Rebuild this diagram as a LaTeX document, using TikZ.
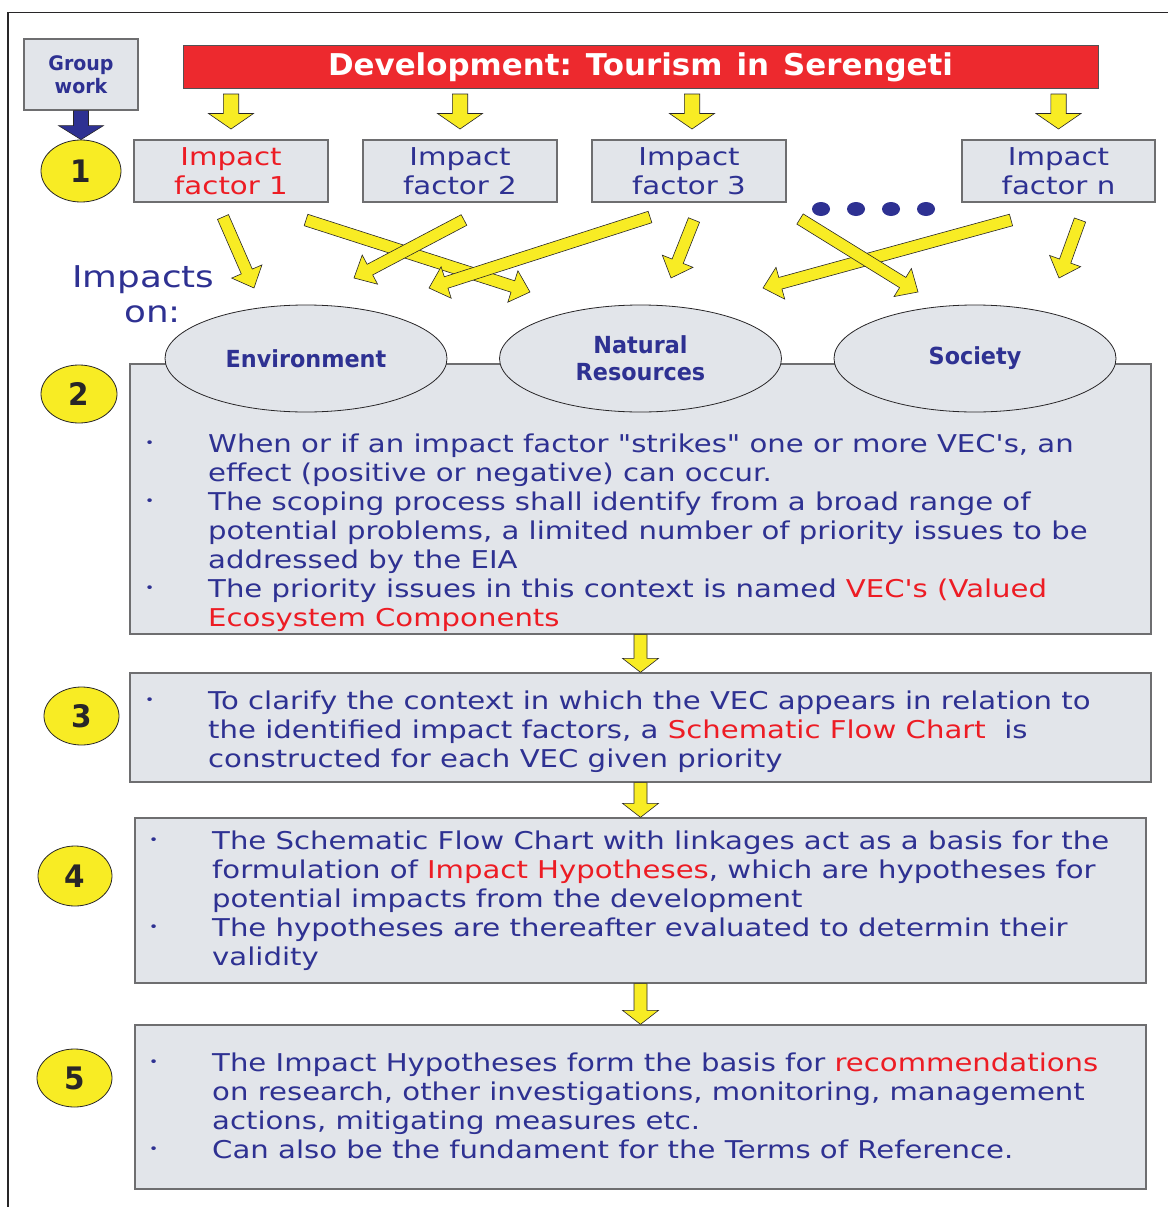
\documentclass[tikz,border=0pt]{standalone}
\usepackage{fontspec}
\setmainfont{DejaVu Sans}[Ligatures=TeXOff,FakeStretch=1.19]
\newfontfamily\hbf{DejaVu Sans}[Ligatures=TeXOff,FakeStretch=0.95]
\newfontfamily\banf{DejaVu Sans}[Ligatures=TeXOff,FakeStretch=1.03]
\usetikzlibrary{calc,shapes.geometric}
\definecolor{blueT}{RGB}{46,49,146}
\definecolor{redT}{RGB}{237,28,36}
\definecolor{yel}{RGB}{248,236,36}
\definecolor{boxfill}{RGB}{226,229,234}
\definecolor{boxline}{RGB}{110,110,112}
\definecolor{bannerred}{RGB}{237,41,46}
\definecolor{darkln}{RGB}{40,38,40}
\newcommand\bul{\makebox[63pt][l]{\raisebox{5pt}{\fontsize{13}{13}\selectfont\textbullet}}}
\newcommand\rd[1]{\textcolor{redT}{#1}}
\newcommand\bodyfont{\fontsize{24.5}{29}\selectfont}
% block arrow: style, from, to, shaft half width, head half width, head length
\newcommand\barrow[6]{%
  \path let \p1=($(#3)-(#2)$) in \pgfextra{%
    \pgfmathsetmacro\tmpa{atan2(\y1,\x1)}%
    \pgfmathsetmacro\tmpl{veclen(\x1,\y1)}%
    \xdef\baang{\tmpa}\xdef\balen{\tmpl}};
  \draw[#1,shift={(#2)},rotate=\baang] (0,#4) -- ({\balen-#6},#4) -- ({\balen-#6},#5)
    -- (\balen,0) -- ({\balen-#6},-#5) -- ({\balen-#6},-#4) -- (0,-#4) -- cycle;
}
\tikzset{
  fbox/.style={rectangle, draw=boxline, fill=boxfill, line width=1.3pt, inner sep=0pt},
  numc/.style={ellipse, draw=darkln, fill=yel, line width=0.8pt, inner sep=0pt,
    font=\hbf\bfseries\fontsize{31}{31}\selectfont, text=darkln},
  vec/.style={ellipse, draw=darkln, fill=boxfill, line width=0.8pt, minimum width=282,
    minimum height=107, inner sep=0pt, align=center,
    font=\hbf\bfseries\fontsize{23.5}{27}\selectfont, text=blueT},
  yarrow/.style={draw=darkln, fill=yel, line width=0.6pt},
  barr/.style={draw=darkln, fill=blueT, line width=0.6pt},
  factor/.style={fbox, minimum width=194, minimum height=62, align=center,
    font=\fontsize{24.6}{28.5}\selectfont, text=blueT},
  dotn/.style={ellipse, fill=blueT, minimum width=18, minimum height=14, inner sep=0pt},
  body/.style={anchor=base west, inner sep=0pt, text=blueT, font=\bodyfont},
  imp/.style={anchor=base west, inner sep=0pt, text=blueT, font=\fontsize{30}{35}\selectfont}
}
\begin{document}
\begin{tikzpicture}[x=1pt,y=-1pt]
\useasboundingbox (0,0) rectangle (1168,1207);
\fill[white] (0,0) rectangle (1168,1207);
\draw[darkln, line width=1.5pt] (8,1207) -- (8,12.5) -- (1168,12.5);

% top row
\node[fbox, minimum width=114, minimum height=71, align=center,
  font=\hbf\bfseries\fontsize{20}{23}\selectfont, text=blueT] (grp) at (81,74.5) {Group\\work};
\node[draw=darkln!80, fill=bannerred, line width=1pt, minimum width=915, minimum height=42,
  inner sep=0pt, text=white, font=\banf\bfseries\fontsize{30}{30}\selectfont]
  (ban) at (640.5,67) {Development:\hspace{14pt}Tourism\hspace{14pt}in\hspace{14pt}Serengeti};

\node[numc, minimum width=80, minimum height=62] (c1) at (81,171) {1};
\barrow{barr}{grp.south}{c1.north}{7.5}{22.5}{14}

\node[factor, text=redT] (f1) at (231,171) {Impact\\factor 1};
\node[factor] (f2) at (460,171) {Impact\\factor 2};
\node[factor] (f3) at (689,171) {Impact\\factor 3};
\node[factor, minimum width=193] (fn) at (1058.5,171) {Impact\\factor n};

\coordinate (t1s) at (231,94);  \coordinate (t1e) at (231,129);
\coordinate (t2s) at (460,94);  \coordinate (t2e) at (460,129);
\coordinate (t3s) at (692,94);  \coordinate (t3e) at (692,129);
\coordinate (t4s) at (1058.5,94); \coordinate (t4e) at (1058.5,129);
\barrow{yarrow}{t1s}{t1e}{7.7}{22.5}{15.5}
\barrow{yarrow}{t2s}{t2e}{7.7}{22.5}{15.5}
\barrow{yarrow}{t3s}{t3e}{7.7}{22.5}{15.5}
\barrow{yarrow}{t4s}{t4e}{7.7}{22.5}{15.5}

\node[dotn] (d1) at (821,209) {};
\node[dotn] (d2) at (856,209) {};
\node[dotn] (d3) at (891,209) {};
\node[dotn] (d4) at (926,209) {};

% diagonal arrows
\coordinate (as) at (223,217);  \coordinate (ae) at (254,288);
\coordinate (bs) at (306,220);  \coordinate (be) at (530,292);
\coordinate (cs) at (464,220);  \coordinate (ce) at (354,278);
\coordinate (ds) at (650,217);  \coordinate (de) at (429,288);
\coordinate (es) at (694,220);  \coordinate (ee) at (671,278);
\coordinate (fs) at (800,219);  \coordinate (fe) at (918,292);
\coordinate (gs) at (1011,220); \coordinate (ge) at (763,288);
\coordinate (hs) at (1080,220); \coordinate (he) at (1059,278);
\barrow{yarrow}{as}{ae}{6}{16.5}{18}
\barrow{yarrow}{bs}{be}{6}{16.5}{18}
\barrow{yarrow}{cs}{ce}{6}{16.5}{18}
\barrow{yarrow}{ds}{de}{6}{16.5}{18}
\barrow{yarrow}{es}{ee}{6}{16.5}{18}
\barrow{yarrow}{gs}{ge}{6}{16.5}{18}
\barrow{yarrow}{fs}{fe}{6}{16.5}{18}
\barrow{yarrow}{hs}{he}{6}{16.5}{18}

\node[imp] (imp1) at (72,287) {Impacts};
\node[imp] (imp2) at (124,322) {on:};

% box 2
\node[fbox, minimum width=1021, minimum height=270] (b2) at (640.5,499) {};
\node[vec] (env) at (306,358.5) {Environment};
\node[vec] (nat) at (640.5,358.5) {Natural\\Resources};
\node[vec] (soc) at (975,358.5) {Society};
\node[numc, minimum width=76, minimum height=58] (c2) at (79,394) {2};
\node[body] (t2) at (145,452) {\begin{tabular}[t]{@{}l@{}l@{}}
\bul&When or if an impact factor "strikes" one or more VEC's, an\\
&effect (positive or negative) can occur.\\
\bul&The scoping process shall identify from a broad range of\\
&potential problems, a limited number of priority issues to be\\
&addressed by the EIA\\
\bul&The priority issues in this context is named \rd{VEC's (Valued}\\
&\rd{Ecosystem Components}
\end{tabular}};

% box 3
\node[fbox, minimum width=1021, minimum height=109] (b3) at (640.5,727.5) {};
\node[numc, minimum width=75, minimum height=58] (c3) at (81.5,716) {3};
\node[body] (t3) at (145,709) {\begin{tabular}[t]{@{}l@{}l@{}}
\bul&To clarify the context in which the VEC appears in relation to\\
&the identified impact factors, a \rd{Schematic Flow Chart}\ \ is\\
&constructed for each VEC given priority
\end{tabular}};

% box 4
\node[fbox, minimum width=1011, minimum height=165] (b4) at (640.5,900.5) {};
\node[numc, minimum width=74, minimum height=60] (c4) at (75,876) {4};
\node[body] (t4) at (149,849) {\begin{tabular}[t]{@{}l@{}l@{}}
\bul&The Schematic Flow Chart with linkages act as a basis for the\\
&formulation of \rd{Impact Hypotheses}, which are hypotheses for\\
&potential impacts from the development\\
\bul&The hypotheses are thereafter evaluated to determin their\\
&validity
\end{tabular}};

% box 5
\node[fbox, minimum width=1011, minimum height=164] (b5) at (640.5,1107) {};
\node[numc, minimum width=75, minimum height=58] (c5) at (74.5,1078) {5};
\node[body] (t5) at (149,1071) {\begin{tabular}[t]{@{}l@{}l@{}}
\bul&The Impact Hypotheses form the basis for \rd{recommendations}\\
&on research, other investigations, monitoring, management\\
&actions, mitigating measures etc.\\
\bul&Can also be the fundament for the Terms of Reference.
\end{tabular}};

% arrows between boxes
\barrow{yarrow}{b2.south}{b3.north}{6.5}{18}{14}
\barrow{yarrow}{b3.south}{b4.north}{6.5}{18}{14}
\barrow{yarrow}{b4.south}{b5.north}{6.5}{18}{14}
\end{tikzpicture}
\end{document}
